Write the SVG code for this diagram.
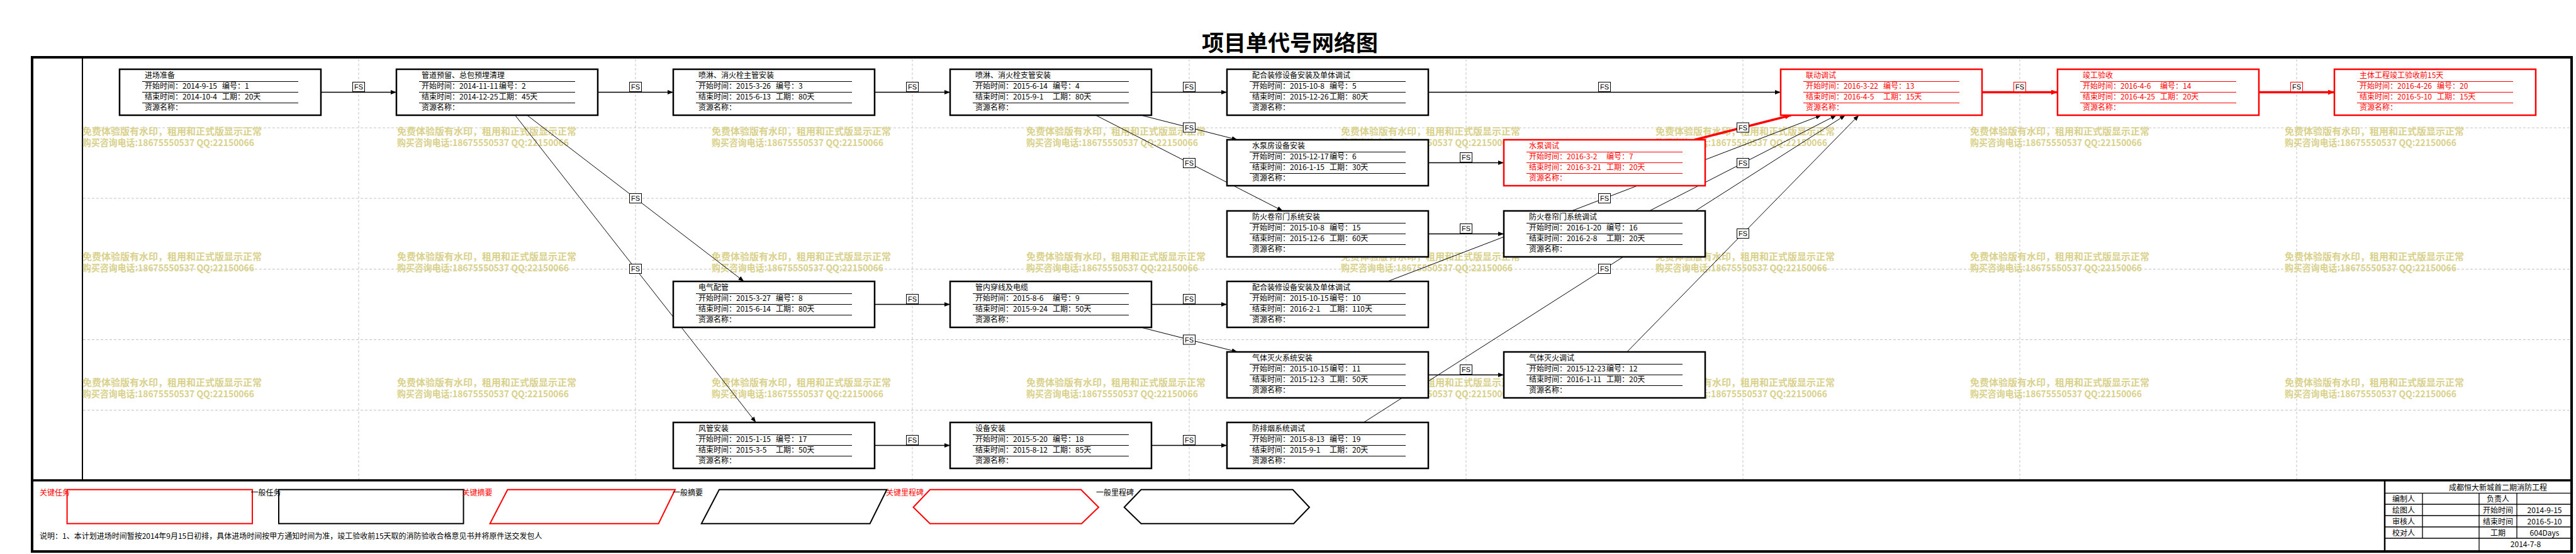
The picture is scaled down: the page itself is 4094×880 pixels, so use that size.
<svg xmlns="http://www.w3.org/2000/svg" width="4094" height="880" viewBox="0 0 4094 880">
<style>
.t{font-family:"Noto Sans CJK SC","Liberation Sans",sans-serif;font-size:12px;fill:#000}
.box{fill:#fff;stroke:#000;stroke-width:2.5}
.sep{stroke:#000;stroke-width:1.2;fill:none}
.red .box,.red .sep{stroke:#f00}
.red .t{fill:#f00}
.grid{stroke:#c4c4c4;stroke-width:1;stroke-dasharray:4 3;fill:none}
.wm{font-family:"Noto Sans CJK SC",sans-serif;font-size:15px;font-weight:bold;fill:#D9D18C}
.ch{stroke:#000;stroke-width:1.5;fill:none;marker-end:url(#ah)}
.cd{stroke:#000;stroke-width:1;fill:none;marker-end:url(#ah)}
.cr{stroke:#f00;stroke-width:3.5;fill:none;marker-end:url(#ahr)}
.fs rect{fill:#fff;stroke:#000;stroke-width:1}
.fsr rect{stroke:#f00}
.fs text{font-family:"Liberation Sans",sans-serif;font-size:11px;text-anchor:middle;fill:#000}
.lg{fill:none;stroke-width:2}
.tb{stroke:#000;stroke-width:1.3;fill:none}
.c{text-anchor:middle}
</style>
<defs>
<marker id="ah" viewBox="0 0 9 7" refX="9" refY="3.5" markerWidth="9" markerHeight="7" markerUnits="userSpaceOnUse" orient="auto"><path d="M0,0L9,3.5L0,7z" fill="#000"/></marker>
<marker id="ahr" viewBox="0 0 10 8" refX="10" refY="4" markerWidth="10" markerHeight="8" markerUnits="userSpaceOnUse" orient="auto"><path d="M0,0L10,4L0,8z" fill="#f00"/></marker>
<g id="wmk"><text class="wm" x="0" y="13">免费体验版有水印，租用和正式版显示正常</text><text class="wm" x="0" y="30.5" textLength="273" lengthAdjust="spacingAndGlyphs">购买咨询电话:18675550537 QQ:22150066</text></g>
</defs>
<rect width="4094" height="880" fill="#fff"/>
<text x="2050" y="81" class="c" style="font-family:'Noto Sans CJK SC',sans-serif;font-size:35px;font-weight:bold">项目单代号网络图</text>
<g id="frame">
<rect x="51" y="91" width="4036" height="785" fill="none" stroke="#000" stroke-width="4"/>
<line x1="51" y1="763" x2="4087" y2="763" stroke="#000" stroke-width="3.5"/>
<line x1="131" y1="91" x2="131" y2="763" stroke="#000" stroke-width="2"/>
</g>
<g id="grid" class="grid">
<path d="M570,94V761M1010,94V761M1450,94V761M1890,94V761M2330,94V761M2770,94V761M3210,94V761M3650,94V761"/>
<path d="M132,203H4085M132,315H4085M132,427.5H4085M132,539.5H4085M132,651.5H4085"/>
</g>
<g id="watermarks">
<use href="#wmk" x="131" y="201"/><use href="#wmk" x="631" y="201"/><use href="#wmk" x="1131" y="201"/><use href="#wmk" x="1631" y="201"/><use href="#wmk" x="2131" y="201"/><use href="#wmk" x="2631" y="201"/><use href="#wmk" x="3131" y="201"/><use href="#wmk" x="3631" y="201"/>
<use href="#wmk" x="131" y="400"/><use href="#wmk" x="631" y="400"/><use href="#wmk" x="1131" y="400"/><use href="#wmk" x="1631" y="400"/><use href="#wmk" x="2131" y="400"/><use href="#wmk" x="2631" y="400"/><use href="#wmk" x="3131" y="400"/><use href="#wmk" x="3631" y="400"/>
<use href="#wmk" x="131" y="600"/><use href="#wmk" x="631" y="600"/><use href="#wmk" x="1131" y="600"/><use href="#wmk" x="1631" y="600"/><use href="#wmk" x="2131" y="600"/><use href="#wmk" x="2631" y="600"/><use href="#wmk" x="3131" y="600"/><use href="#wmk" x="3631" y="600"/>
</g>
<g id="connectors">
<path class="ch" d="M510,146.5H630"/>
<path class="ch" d="M950,146.5H1070"/>
<path class="ch" d="M1390,146.5H1510"/>
<path class="ch" d="M1830,146.5H1950"/>
<path class="ch" d="M2270,146.5H2830"/>
<path class="cr" d="M3150,146.5H3270"/>
<path class="cr" d="M3590,146.5H3710"/>
<path class="ch" d="M2270,258.5H2390"/>
<path class="ch" d="M2270,371.5H2390"/>
<path class="ch" d="M1390,483.5H1510"/>
<path class="ch" d="M1830,483.5H1950"/>
<path class="ch" d="M2270,595.5H2390"/>
<path class="ch" d="M1390,707.5H1510"/>
<path class="ch" d="M1830,707.5H1950"/>
<path class="cd" d="M837.66,183L1182.34,447"/>
<path class="cd" d="M818.63,183L1201.37,671"/>
<path class="cd" d="M1813.39,183L1966.61,222"/>
<path class="cd" d="M1741.38,183L2038.62,335"/>
<path class="cd" d="M1813.39,520L1966.61,559"/>
<path class="cr" d="M2693.39,222L2846.61,183"/>
<path class="cd" d="M2205.31,447L2894.69,183"/>
<path class="cd" d="M2621.38,335L2918.62,183"/>
<path class="cd" d="M2585.77,559L2954.23,183"/>
<path class="cd" d="M2167.25,671L2932.75,183"/>
<g class="fs">
<rect x="560.5" y="130.5" width="19" height="15"/><text x="570" y="142">FS</text>
<rect x="1000.5" y="130.5" width="19" height="15"/><text x="1010" y="142">FS</text>
<rect x="1440.5" y="130.5" width="19" height="15"/><text x="1450" y="142">FS</text>
<rect x="1880.5" y="130.5" width="19" height="15"/><text x="1890" y="142">FS</text>
<rect x="2540.5" y="130.5" width="19" height="15"/><text x="2550" y="142">FS</text>
<rect x="2320.5" y="242.5" width="19" height="15"/><text x="2330" y="254">FS</text>
<rect x="2320.5" y="355.5" width="19" height="15"/><text x="2330" y="367">FS</text>
<rect x="1440.5" y="467.5" width="19" height="15"/><text x="1450" y="479">FS</text>
<rect x="1880.5" y="467.5" width="19" height="15"/><text x="1890" y="479">FS</text>
<rect x="2320.5" y="579.5" width="19" height="15"/><text x="2330" y="591">FS</text>
<rect x="1440.5" y="691.5" width="19" height="15"/><text x="1450" y="703">FS</text>
<rect x="1880.5" y="691.5" width="19" height="15"/><text x="1890" y="703">FS</text>
<rect x="1000.5" y="307.5" width="19" height="15"/><text x="1010" y="319">FS</text>
<rect x="1000.5" y="419.5" width="19" height="15"/><text x="1010" y="431">FS</text>
<rect x="1880.5" y="195" width="19" height="15"/><text x="1890" y="206.5">FS</text>
<rect x="1880.5" y="251.5" width="19" height="15"/><text x="1890" y="263">FS</text>
<rect x="1880.5" y="532" width="19" height="15"/><text x="1890" y="543.5">FS</text>
<rect x="2760.5" y="195" width="19" height="15"/><text x="2770" y="206.5">FS</text>
<rect x="2540.5" y="307.5" width="19" height="15"/><text x="2550" y="319">FS</text>
<rect x="2760.5" y="251.5" width="19" height="15"/><text x="2770" y="263">FS</text>
<rect x="2760.5" y="363.5" width="19" height="15"/><text x="2770" y="375">FS</text>
<rect x="2540.5" y="419.5" width="19" height="15"/><text x="2550" y="431">FS</text>
</g>
<g class="fs fsr">
<rect x="3200.5" y="130.5" width="19" height="15"/><text x="3210" y="142">FS</text>
<rect x="3640.5" y="130.5" width="19" height="15"/><text x="3650" y="142">FS</text>
</g>
</g>
<g id="n1" transform="translate(190,110)"><rect class="box" width="320" height="73"/><path class="sep" d="M36,19.5H284M36,36.5H284M36,53.5H284"/><text class="t" x="40" y="13.5">进场准备</text><text class="t" x="40" y="30.5">开始时间：2014-9-15</text><text class="t" x="163" y="30.5">编号：1</text><text class="t" x="40" y="47.5">结束时间：2014-10-4</text><text class="t" x="163" y="47.5">工期：20天</text><text class="t" x="40" y="64.5">资源名称：</text></g>
<g id="n2" transform="translate(630,110)"><rect class="box" width="320" height="73"/><path class="sep" d="M36,19.5H284M36,36.5H284M36,53.5H284"/><text class="t" x="40" y="13.5">管道预留、总包预埋清理</text><text class="t" x="40" y="30.5">开始时间：2014-11-11</text><text class="t" x="163" y="30.5">编号：2</text><text class="t" x="40" y="47.5">结束时间：2014-12-25</text><text class="t" x="163" y="47.5">工期：45天</text><text class="t" x="40" y="64.5">资源名称：</text></g>
<g id="n3" transform="translate(1070,110)"><rect class="box" width="320" height="73"/><path class="sep" d="M36,19.5H284M36,36.5H284M36,53.5H284"/><text class="t" x="40" y="13.5">喷淋、消火栓主管安装</text><text class="t" x="40" y="30.5">开始时间：2015-3-26</text><text class="t" x="163" y="30.5">编号：3</text><text class="t" x="40" y="47.5">结束时间：2015-6-13</text><text class="t" x="163" y="47.5">工期：80天</text><text class="t" x="40" y="64.5">资源名称：</text></g>
<g id="n4" transform="translate(1510,110)"><rect class="box" width="320" height="73"/><path class="sep" d="M36,19.5H284M36,36.5H284M36,53.5H284"/><text class="t" x="40" y="13.5">喷淋、消火栓支管安装</text><text class="t" x="40" y="30.5">开始时间：2015-6-14</text><text class="t" x="163" y="30.5">编号：4</text><text class="t" x="40" y="47.5">结束时间：2015-9-1</text><text class="t" x="163" y="47.5">工期：80天</text><text class="t" x="40" y="64.5">资源名称：</text></g>
<g id="n5" transform="translate(1950,110)"><rect class="box" width="320" height="73"/><path class="sep" d="M36,19.5H284M36,36.5H284M36,53.5H284"/><text class="t" x="40" y="13.5">配合装修设备安装及单体调试</text><text class="t" x="40" y="30.5">开始时间：2015-10-8</text><text class="t" x="163" y="30.5">编号：5</text><text class="t" x="40" y="47.5">结束时间：2015-12-26</text><text class="t" x="163" y="47.5">工期：80天</text><text class="t" x="40" y="64.5">资源名称：</text></g>
<g id="n13" class="red" transform="translate(2830,110)"><rect class="box" width="320" height="73"/><path class="sep" d="M36,19.5H284M36,36.5H284M36,53.5H284"/><text class="t" x="40" y="13.5">联动调试</text><text class="t" x="40" y="30.5">开始时间：2016-3-22</text><text class="t" x="163" y="30.5">编号：13</text><text class="t" x="40" y="47.5">结束时间：2016-4-5</text><text class="t" x="163" y="47.5">工期：15天</text><text class="t" x="40" y="64.5">资源名称：</text></g>
<g id="n14" class="red" transform="translate(3270,110)"><rect class="box" width="320" height="73"/><path class="sep" d="M36,19.5H284M36,36.5H284M36,53.5H284"/><text class="t" x="40" y="13.5">竣工验收</text><text class="t" x="40" y="30.5">开始时间：2016-4-6</text><text class="t" x="163" y="30.5">编号：14</text><text class="t" x="40" y="47.5">结束时间：2016-4-25</text><text class="t" x="163" y="47.5">工期：20天</text><text class="t" x="40" y="64.5">资源名称：</text></g>
<g id="n20" class="red" transform="translate(3710,110)"><rect class="box" width="320" height="73"/><path class="sep" d="M36,19.5H284M36,36.5H284M36,53.5H284"/><text class="t" x="40" y="13.5">主体工程竣工验收前15天</text><text class="t" x="40" y="30.5">开始时间：2016-4-26</text><text class="t" x="163" y="30.5">编号：20</text><text class="t" x="40" y="47.5">结束时间：2016-5-10</text><text class="t" x="163" y="47.5">工期：15天</text><text class="t" x="40" y="64.5">资源名称：</text></g>
<g id="n6" transform="translate(1950,222)"><rect class="box" width="320" height="73"/><path class="sep" d="M36,19.5H284M36,36.5H284M36,53.5H284"/><text class="t" x="40" y="13.5">水泵房设备安装</text><text class="t" x="40" y="30.5">开始时间：2015-12-17</text><text class="t" x="163" y="30.5">编号：6</text><text class="t" x="40" y="47.5">结束时间：2016-1-15</text><text class="t" x="163" y="47.5">工期：30天</text><text class="t" x="40" y="64.5">资源名称：</text></g>
<g id="n7" class="red" transform="translate(2390,222)"><rect class="box" width="320" height="73"/><path class="sep" d="M36,19.5H284M36,36.5H284M36,53.5H284"/><text class="t" x="40" y="13.5">水泵调试</text><text class="t" x="40" y="30.5">开始时间：2016-3-2</text><text class="t" x="163" y="30.5">编号：7</text><text class="t" x="40" y="47.5">结束时间：2016-3-21</text><text class="t" x="163" y="47.5">工期：20天</text><text class="t" x="40" y="64.5">资源名称：</text></g>
<g id="n15" transform="translate(1950,335)"><rect class="box" width="320" height="73"/><path class="sep" d="M36,19.5H284M36,36.5H284M36,53.5H284"/><text class="t" x="40" y="13.5">防火卷帘门系统安装</text><text class="t" x="40" y="30.5">开始时间：2015-10-8</text><text class="t" x="163" y="30.5">编号：15</text><text class="t" x="40" y="47.5">结束时间：2015-12-6</text><text class="t" x="163" y="47.5">工期：60天</text><text class="t" x="40" y="64.5">资源名称：</text></g>
<g id="n16" transform="translate(2390,335)"><rect class="box" width="320" height="73"/><path class="sep" d="M36,19.5H284M36,36.5H284M36,53.5H284"/><text class="t" x="40" y="13.5">防火卷帘门系统调试</text><text class="t" x="40" y="30.5">开始时间：2016-1-20</text><text class="t" x="163" y="30.5">编号：16</text><text class="t" x="40" y="47.5">结束时间：2016-2-8</text><text class="t" x="163" y="47.5">工期：20天</text><text class="t" x="40" y="64.5">资源名称：</text></g>
<g id="n8" transform="translate(1070,447)"><rect class="box" width="320" height="73"/><path class="sep" d="M36,19.5H284M36,36.5H284M36,53.5H284"/><text class="t" x="40" y="13.5">电气配管</text><text class="t" x="40" y="30.5">开始时间：2015-3-27</text><text class="t" x="163" y="30.5">编号：8</text><text class="t" x="40" y="47.5">结束时间：2015-6-14</text><text class="t" x="163" y="47.5">工期：80天</text><text class="t" x="40" y="64.5">资源名称：</text></g>
<g id="n9" transform="translate(1510,447)"><rect class="box" width="320" height="73"/><path class="sep" d="M36,19.5H284M36,36.5H284M36,53.5H284"/><text class="t" x="40" y="13.5">管内穿线及电缆</text><text class="t" x="40" y="30.5">开始时间：2015-8-6</text><text class="t" x="163" y="30.5">编号：9</text><text class="t" x="40" y="47.5">结束时间：2015-9-24</text><text class="t" x="163" y="47.5">工期：50天</text><text class="t" x="40" y="64.5">资源名称：</text></g>
<g id="n10" transform="translate(1950,447)"><rect class="box" width="320" height="73"/><path class="sep" d="M36,19.5H284M36,36.5H284M36,53.5H284"/><text class="t" x="40" y="13.5">配合装修设备安装及单体调试</text><text class="t" x="40" y="30.5">开始时间：2015-10-15</text><text class="t" x="163" y="30.5">编号：10</text><text class="t" x="40" y="47.5">结束时间：2016-2-1</text><text class="t" x="163" y="47.5">工期：110天</text><text class="t" x="40" y="64.5">资源名称：</text></g>
<g id="n11" transform="translate(1950,559)"><rect class="box" width="320" height="73"/><path class="sep" d="M36,19.5H284M36,36.5H284M36,53.5H284"/><text class="t" x="40" y="13.5">气体灭火系统安装</text><text class="t" x="40" y="30.5">开始时间：2015-10-15</text><text class="t" x="163" y="30.5">编号：11</text><text class="t" x="40" y="47.5">结束时间：2015-12-3</text><text class="t" x="163" y="47.5">工期：50天</text><text class="t" x="40" y="64.5">资源名称：</text></g>
<g id="n12" transform="translate(2390,559)"><rect class="box" width="320" height="73"/><path class="sep" d="M36,19.5H284M36,36.5H284M36,53.5H284"/><text class="t" x="40" y="13.5">气体灭火调试</text><text class="t" x="40" y="30.5">开始时间：2015-12-23</text><text class="t" x="163" y="30.5">编号：12</text><text class="t" x="40" y="47.5">结束时间：2016-1-11</text><text class="t" x="163" y="47.5">工期：20天</text><text class="t" x="40" y="64.5">资源名称：</text></g>
<g id="n17" transform="translate(1070,671)"><rect class="box" width="320" height="73"/><path class="sep" d="M36,19.5H284M36,36.5H284M36,53.5H284"/><text class="t" x="40" y="13.5">风管安装</text><text class="t" x="40" y="30.5">开始时间：2015-1-15</text><text class="t" x="163" y="30.5">编号：17</text><text class="t" x="40" y="47.5">结束时间：2015-3-5</text><text class="t" x="163" y="47.5">工期：50天</text><text class="t" x="40" y="64.5">资源名称：</text></g>
<g id="n18" transform="translate(1510,671)"><rect class="box" width="320" height="73"/><path class="sep" d="M36,19.5H284M36,36.5H284M36,53.5H284"/><text class="t" x="40" y="13.5">设备安装</text><text class="t" x="40" y="30.5">开始时间：2015-5-20</text><text class="t" x="163" y="30.5">编号：18</text><text class="t" x="40" y="47.5">结束时间：2015-8-12</text><text class="t" x="163" y="47.5">工期：85天</text><text class="t" x="40" y="64.5">资源名称：</text></g>
<g id="n19" transform="translate(1950,671)"><rect class="box" width="320" height="73"/><path class="sep" d="M36,19.5H284M36,36.5H284M36,53.5H284"/><text class="t" x="40" y="13.5">防排烟系统调试</text><text class="t" x="40" y="30.5">开始时间：2015-8-13</text><text class="t" x="163" y="30.5">编号：19</text><text class="t" x="40" y="47.5">结束时间：2015-9-1</text><text class="t" x="163" y="47.5">工期：20天</text><text class="t" x="40" y="64.5">资源名称：</text></g>
<g id="legend">
<text class="t" x="63" y="786.5" fill="#f00" style="fill:#f00">关键任务</text>
<rect class="lg" x="106.6" y="777.7" width="294.4" height="54" stroke="#f00"/>
<text class="t" x="398.5" y="786.5">一般任务</text>
<rect class="lg" x="443" y="777.7" width="293.6" height="54" stroke="#000"/>
<text class="t" x="734.5" y="786.5" style="fill:#f00">关键摘要</text>
<polygon class="lg" points="806.7,777.7 1073,777.7 1046.6,831.7 778.7,831.7" stroke="#f00"/>
<text class="t" x="1069" y="786.5">一般摘要</text>
<polygon class="lg" points="1143,777.7 1409.4,777.7 1382.6,831.7 1114.8,831.7" stroke="#000"/>
<text class="t" x="1408" y="786.5" style="fill:#f00">关键里程碑</text>
<polygon class="lg" points="1478,777.7 1718,777.7 1746,805.7 1719,831.7 1478,831.7 1451.5,805.7" stroke="#f00"/>
<text class="t" x="1742" y="786.5">一般里程碑</text>
<polygon class="lg" points="1813.5,777.7 2054.6,777.7 2081,805.7 2056,831.7 1813.5,831.7 1786.7,805.7" stroke="#000"/>
<text class="t" x="63" y="855.5">说明：1、本计划进场时间暂按2014年9月15日初排，具体进场时间按甲方通知时间为准，竣工验收前15天取的消防验收合格意见书并将原件送交发包人</text>
</g>
<g id="titleblock">
<line x1="3790" y1="763" x2="3790" y2="876" stroke="#000" stroke-width="2.5"/>
<path class="tb" d="M3790,783.3H4086M3790,801H4086M3790,819H4086M3790,837H4086M3790,855H4086M3850,783.3V855M3940,783.3V876M4000,783.3V855"/>
<text class="t c" x="3970" y="778.5">成都恒大新城首二期消防工程</text>
<text class="t" x="3802" y="796.5">编制人</text><text class="t c" x="3970" y="796.5">负责人</text>
<text class="t" x="3802" y="814.5">绘图人</text><text class="t c" x="3970" y="814.5">开始时间</text><text class="t c" x="4044" y="814.5">2014-9-15</text>
<text class="t" x="3802" y="832.5">审核人</text><text class="t c" x="3970" y="832.5">结束时间</text><text class="t c" x="4044" y="832.5">2016-5-10</text>
<text class="t" x="3802" y="850.5">校对人</text><text class="t c" x="3970" y="850.5">工期</text><text class="t c" x="4044" y="850.5">604Days</text>
<text class="t c" x="4014" y="869">2014-7-8</text>
</g>
</svg>
